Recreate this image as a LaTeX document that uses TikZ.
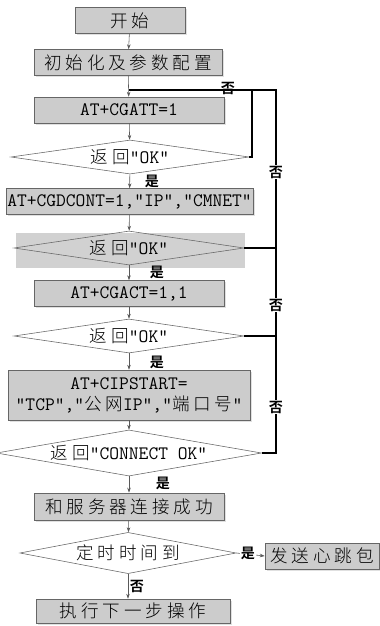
\documentclass[tikz,border=0pt]{standalone}
\usepackage{fontspec}
\setmainfont{Latin Modern Mono}
\newfontfamily\cjk[LetterSpace=22]{Noto Sans CJK SC Light}
\newfontfamily\cjkbold{Noto Sans CJK SC Bold}
\newcommand\zh{\cjk\fontsize{12.5}{14}\selectfont}
\usetikzlibrary{shapes.geometric, arrows.meta, shadows}

\begin{document}
\begin{tikzpicture}[
  x=0.025cm, y=-0.025cm,
  stepbox/.style={draw=black!60, fill=black!20, minimum width=4.75cm, minimum height=0.65cm, align=center, inner sep=1pt, font=\fontsize{13.5}{15}\selectfont, drop shadow={shadow xshift=1.2pt, shadow yshift=-1.2pt, fill=black!12, opacity=1}},
  check/.style={diamond, draw=black!60, fill=white, aspect=7, inner sep=0pt, minimum width=5.75cm, minimum height=0.85cm, font=\fontsize{13.5}{15}\selectfont},
  tag/.style={font=\cjkbold\fontsize{10}{11}\selectfont, inner sep=0.5pt},
  arrow/.style={-{Stealth[length=3.5pt, width=2.5pt]}, draw=black!65},
  loop/.style={draw=black, thick}
]
\useasboundingbox (0,0) rectangle (380,626);

% grey band behind the second check
\fill[black!18] (16,233) rectangle (245,268);

% Main chain
\node[stepbox, minimum width=2.75cm] (start) at (130,20.5) {\zh 开始};
\node[stepbox, minimum width=4.7cm] (init) at (128,62.5) {\zh 初始化及参数配置};
\node[stepbox] (cgatt) at (129,110) {AT+CGATT=1};
\node[check, minimum width=5.95cm] (ok1) at (130,157) {{\zh 返回}"OK"};
\node[stepbox, minimum width=6.18cm] (cgdcont) at (129.5,201.5) {AT+CGDCONT=1,"IP","CMNET"};
\node[check, fill=none] (ok2) at (129,248) {{\zh 返回}"OK"};
\node[stepbox] (cgact) at (129,293.5) {AT+CGACT=1,1};
\node[check] (ok3) at (129,336) {{\zh 返回}"OK"};
\node[stepbox, minimum width=6.05cm, minimum height=1.25cm] (cipstart) at (129,395) {AT+CIPSTART=\\"TCP","{\zh 公网}IP","{\zh 端口号}"};
\node[check, minimum height=1.15cm] (ok4) at (129,453) {{\zh 返回}"CONNECT OK"};
\node[stepbox, minimum height=0.68cm] (linked) at (129,506.5) {\zh 和服务器连接成功};
\node[check, minimum width=5.25cm, minimum height=1.03cm] (timer) at (128,553) {\zh 定时时间到};
\node[stepbox, minimum width=2.85cm] (beat) at (322,556) {\zh 发送心跳包};
\node[stepbox, minimum width=4.85cm, minimum height=0.6cm] (next) at (133,611) {\zh 执行下一步操作};

% Loop-back points
\coordinate (j0) at (129,90);
\coordinate (r1) at (252,90);
\coordinate (r2) at (276,90);

% Arrows
\draw[arrow] (start) -- (init);
\draw[arrow] (init) -- (cgatt);
\draw[arrow] (cgatt) -- (ok1);
\draw[arrow] (ok1) -- (cgdcont);
\draw[arrow] (cgdcont) -- (ok2);
\draw[arrow] (ok2) -- (cgact);
\draw[arrow] (cgact) -- (ok3);
\draw[arrow] (ok3) -- (cipstart);
\draw[arrow] (cipstart) -- (ok4);
\draw[arrow] (ok4) -- (linked);
\draw[arrow] (linked) -- (timer);
\draw[arrow] (timer.east) -- (beat.west);
\draw[arrow] (timer.south) -- (timer.south |- next.north);

% Loops back on failure
\draw[loop] (ok1.east) -| (r1);
\draw[loop] (ok4.east) -| (r2) -- (j0);
\draw[loop] (ok2.east) -- (ok2.east -| r2);
\draw[loop] (ok3.east) -- (ok3.east -| r2);

% Labels
\node[tag] (no0) at (228,88) {否};
\node[tag, fill=white] (no1) at (276,172) {否};
\node[tag, fill=white] (no2) at (276,305) {否};
\node[tag, fill=white] (no3) at (276,407) {否};
\node[tag] (yes1) at (152,181) {是};
\node[tag] (yes2) at (157,272) {是};
\node[tag] (yes3) at (157,362) {是};
\node[tag] (yes4) at (163,483) {是};
\node[tag, fill=white] (yes5) at (248,553) {是};
\node[tag] (no4) at (137,586) {否};

\end{tikzpicture}
\end{document}
